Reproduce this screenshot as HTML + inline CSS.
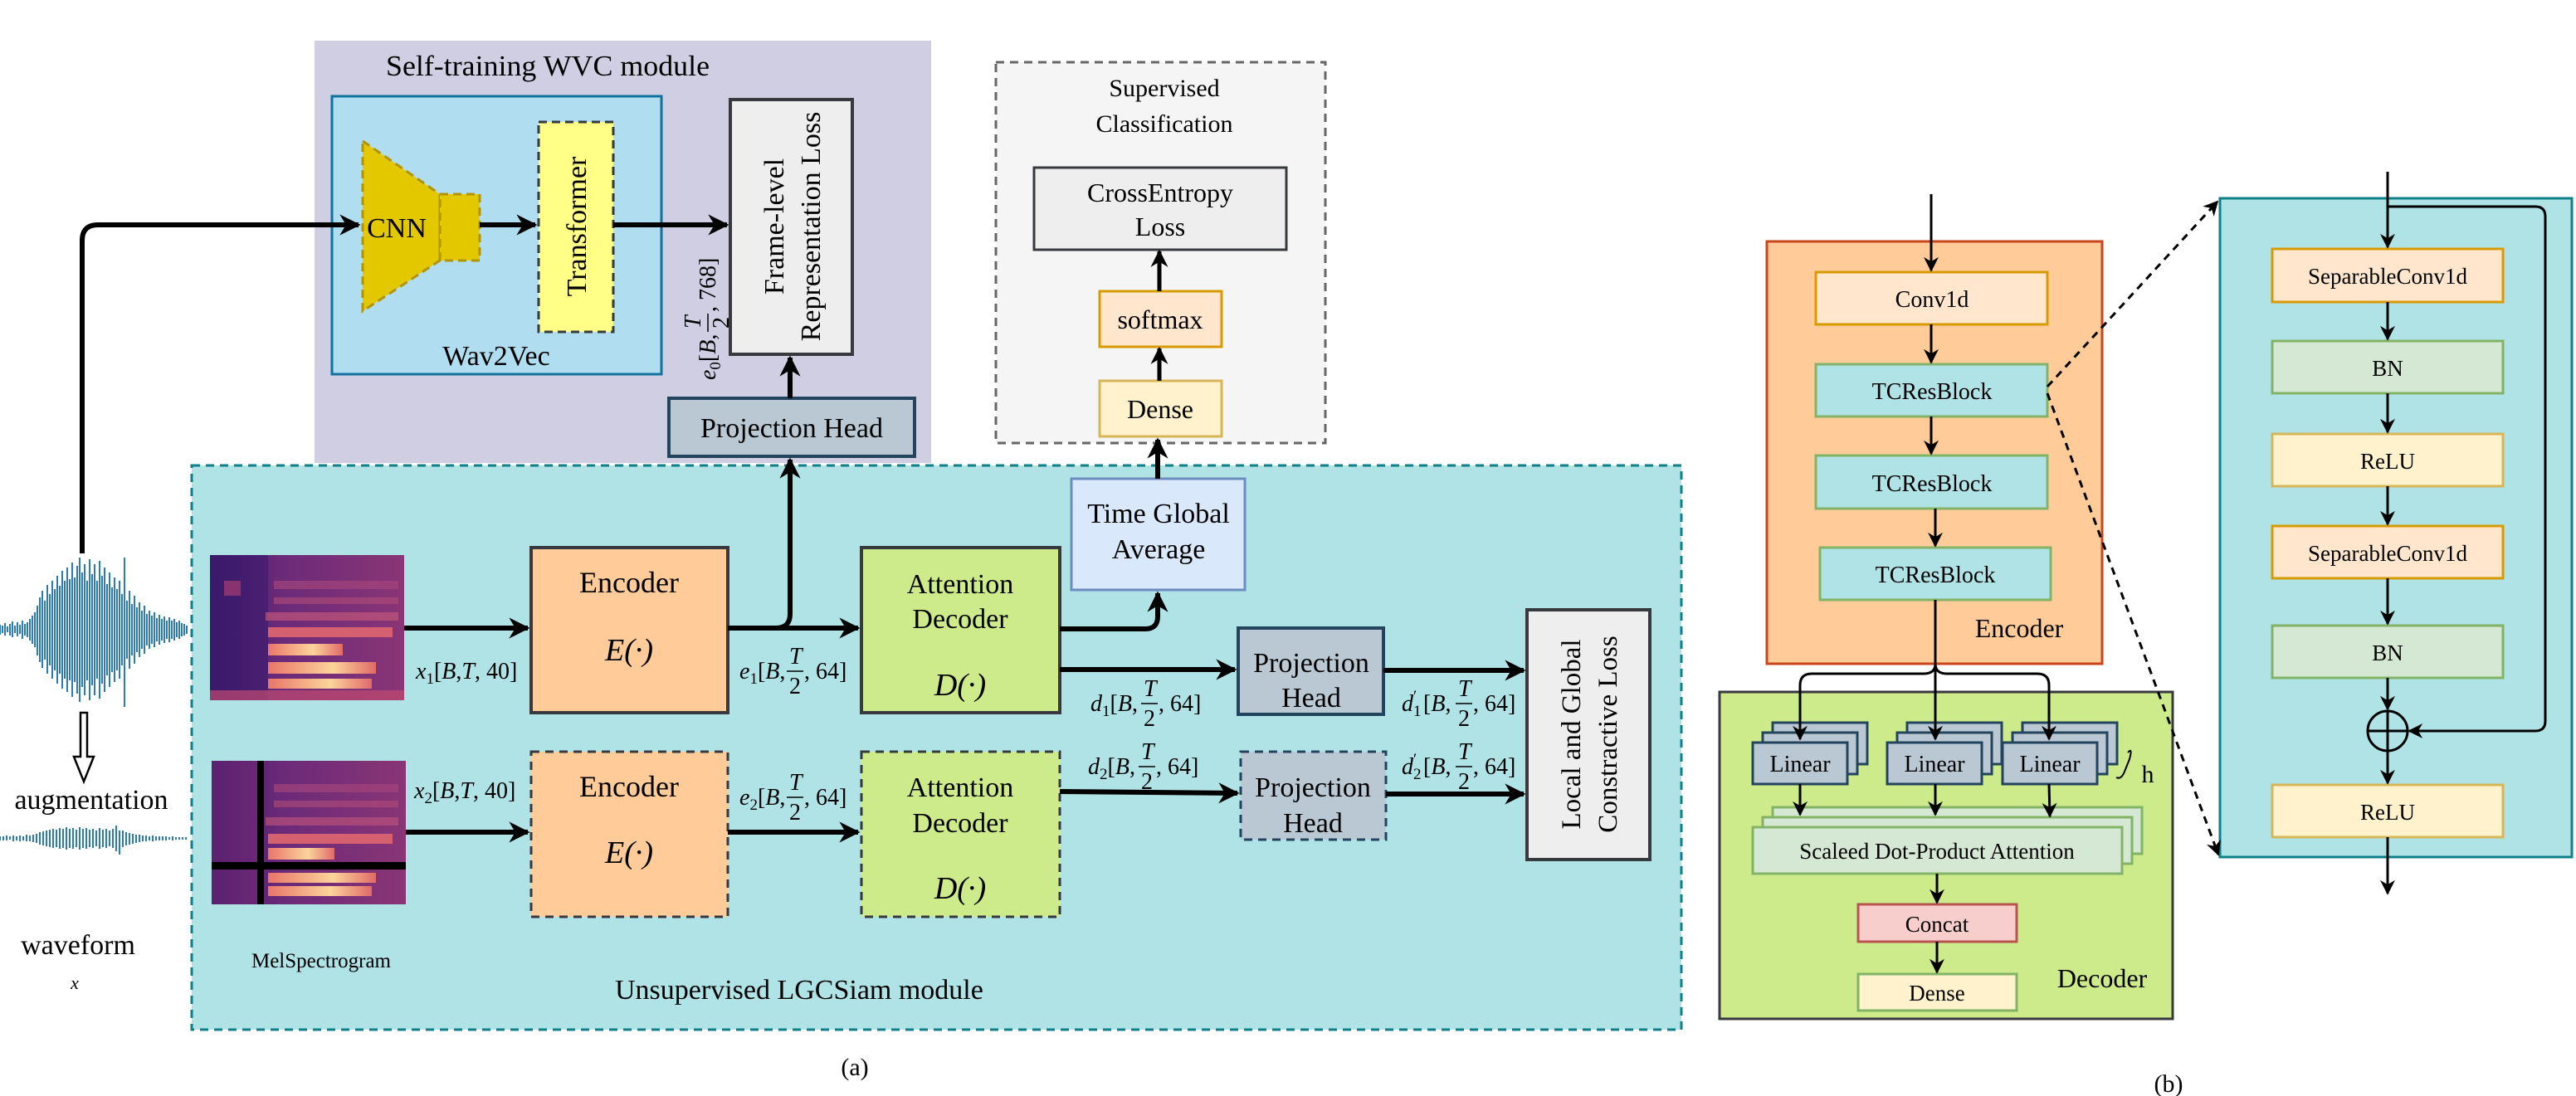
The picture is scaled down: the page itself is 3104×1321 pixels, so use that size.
<!DOCTYPE html>
<html><head><meta charset="utf-8"><style>
html,body{margin:0;padding:0;background:#fff;width:3104px;height:1321px;overflow:hidden}
svg{display:block}
svg text{font-family:"Liberation Serif","DejaVu Serif",serif;fill:#000}
.m{font-size:28px}
</style></head><body>
<svg width="3104" height="1321" viewBox="0 0 3104 1321" xmlns="http://www.w3.org/2000/svg" font-family="Liberation Serif, DejaVu Serif, serif">
<defs>
<marker id="a" viewBox="0 0 10 10" refX="9" refY="5" markerWidth="4.2" markerHeight="4.2" orient="auto" markerUnits="strokeWidth"><path d="M0,0 L10,5 L0,10 L3,5 z" fill="#000"/></marker>
<marker id="b" viewBox="0 0 10 10" refX="9" refY="5" markerWidth="6" markerHeight="6" orient="auto" markerUnits="strokeWidth"><path d="M0,0 L10,5 L0,10 L3,5 z" fill="#000"/></marker>
<linearGradient id="sg" x1="0" x2="1" y1="0" y2="0"><stop offset="0" stop-color="#3a1766"/><stop offset="0.35" stop-color="#6a2a78"/><stop offset="1" stop-color="#8a3576"/></linearGradient>
<linearGradient id="hb" x1="0" x2="1" y1="0" y2="0"><stop offset="0" stop-color="#e8766a"/><stop offset="0.6" stop-color="#fcd49a"/><stop offset="1" stop-color="#e06a6a"/></linearGradient>
</defs>

<!-- Purple WVC module -->
<rect x="379" y="49" width="743" height="509" fill="#d0cee2"/>
<text x="660" y="91" font-size="35" text-anchor="middle" textLength="390" lengthAdjust="spacingAndGlyphs">Self-training WVC module</text>
<rect x="400" y="116" width="397" height="335" fill="#b1ddf0" stroke="#10739e" stroke-width="3"/>
<polygon points="437,170 530,234 530,314 437,375" fill="#e3c800" stroke="#b09500" stroke-width="3" stroke-dasharray="10,6"/>
<rect x="530" y="234" width="48" height="80" fill="#e3c800" stroke="#b09500" stroke-width="3" stroke-dasharray="10,6"/>
<text x="478" y="286" font-size="34" text-anchor="middle">CNN</text>
<rect x="649" y="147" width="90" height="253" fill="#ffff88" stroke="#36393d" stroke-width="3" stroke-dasharray="10,6"/>
<text transform="translate(706,273) rotate(-90)" font-size="34" text-anchor="middle">Transformer</text>
<text x="598" y="440" font-size="34" text-anchor="middle">Wav2Vec</text>
<rect x="880" y="120" width="147" height="307" fill="#eeeeee" stroke="#36393d" stroke-width="4"/>
<text transform="translate(944,273) rotate(-90)" font-size="34" text-anchor="middle">Frame-level</text>
<text transform="translate(988,273) rotate(-90)" font-size="34" text-anchor="middle">Representation Loss</text>
<g transform="translate(862,458) rotate(-90)">
<text x="0" y="0" class="m"><tspan font-style="italic">e</tspan><tspan font-size="19" dy="6">0</tspan><tspan dy="-6">[</tspan><tspan font-style="italic">B</tspan>,</text>
<text x="62" y="-18" class="m" font-style="italic">T</text><line x1="58" y1="-9" x2="80" y2="-9" stroke="#000" stroke-width="1.5"/><text x="62" y="16" class="m">2</text>
<text x="82" y="0" class="m">, 768]</text>
</g>
<rect x="806" y="480" width="296" height="70" fill="#bac8d3" stroke="#23445d" stroke-width="4"/>
<text x="954" y="527" font-size="34" text-anchor="middle">Projection Head</text>

<!-- Supervised classification -->
<rect x="1200" y="75" width="397" height="459" fill="#f5f5f5" stroke="#666" stroke-width="3" stroke-dasharray="10,7"/>
<text x="1403" y="116" font-size="30" text-anchor="middle">Supervised</text>
<text x="1403" y="159" font-size="30" text-anchor="middle">Classification</text>
<rect x="1246" y="202" width="304" height="99" fill="#eeeeee" stroke="#36393d" stroke-width="3"/>
<text x="1398" y="243" font-size="32" text-anchor="middle">CrossEntropy</text>
<text x="1398" y="284" font-size="32" text-anchor="middle">Loss</text>
<rect x="1325" y="351" width="147" height="67" fill="#ffe6cc" stroke="#d79b00" stroke-width="3"/>
<text x="1398" y="396" font-size="32" text-anchor="middle">softmax</text>
<rect x="1325" y="459" width="147" height="67" fill="#fff2cc" stroke="#d6b656" stroke-width="3"/>
<text x="1398" y="504" font-size="32" text-anchor="middle">Dense</text>
<line x1="1397" y1="459" x2="1397" y2="420" stroke="#000" stroke-width="5" marker-end="url(#a)"/>
<line x1="1397" y1="351" x2="1397" y2="303" stroke="#000" stroke-width="5" marker-end="url(#a)"/>

<!-- Unsupervised cyan box -->
<rect x="231" y="561" width="1795" height="680" fill="#b0e3e6" stroke="#0e8088" stroke-width="3" stroke-dasharray="10,7"/>
<text x="741" y="1204" font-size="34">Unsupervised LGCSiam module</text>
<text x="387" y="1166" font-size="25" text-anchor="middle">MelSpectrogram</text>

<!-- Spectrogram 1 -->
<g>
<rect x="253" y="669" width="234" height="175" fill="url(#sg)"/>
<rect x="253" y="669" width="70" height="175" fill="#3b1a6e" opacity="0.6"/>
<rect x="270" y="700" width="20" height="18" fill="#9a3a70" opacity="0.8"/>
<rect x="330" y="700" width="150" height="10" fill="#a3457a" opacity="0.7"/>
<rect x="330" y="720" width="150" height="8" fill="#b14c78" opacity="0.6"/>
<rect x="320" y="738" width="160" height="10" fill="#c0557a" opacity="0.7"/>
<rect x="323" y="756" width="150" height="12" fill="#d46070"/>
<rect x="323" y="776" width="90" height="14" fill="url(#hb)"/>
<rect x="323" y="798" width="130" height="14" fill="url(#hb)"/>
<rect x="323" y="818" width="125" height="12" fill="url(#hb)"/>
<rect x="253" y="832" width="234" height="12" fill="#c04a70" opacity="0.7"/>
</g>
<!-- Spectrogram 2 -->
<g>
<rect x="255" y="917" width="234" height="173" fill="url(#sg)"/>
<rect x="255" y="917" width="60" height="173" fill="#7a2c7a" opacity="0.5"/>
<rect x="330" y="945" width="150" height="10" fill="#a3457a" opacity="0.7"/>
<rect x="330" y="965" width="150" height="8" fill="#b14c78" opacity="0.6"/>
<rect x="320" y="985" width="160" height="10" fill="#b8507a" opacity="0.7"/>
<rect x="323" y="1005" width="150" height="12" fill="#d46070"/>
<rect x="323" y="1022" width="80" height="14" fill="url(#hb)"/>
<rect x="323" y="1052" width="130" height="12" fill="url(#hb)"/>
<rect x="323" y="1068" width="125" height="12" fill="url(#hb)"/>
<rect x="255" y="1039" width="234" height="9" fill="#000"/>
<rect x="310" y="917" width="8" height="173" fill="#000"/>
</g>

<!-- waveforms -->
<path stroke="#2b7bb9" stroke-width="2" fill="none" d="M0,753V765 M3,754V763 M6,751V766 M9,755V762 M12,752V766 M15,749V768 M18,754V763 M21,750V767 M24,753V764 M27,748V770 M30,752V766 M33,750V768 M36,746V772 M39,742V776 M42,738V780 M45,730V790 M48,720V798 M51,712V805 M54,724V795 M57,705V812 M60,716V802 M63,700V818 M66,710V808 M69,694V824 M72,706V812 M75,688V830 M78,700V818 M81,684V834 M84,698V820 M87,678V840 M90,696V822 M93,682V836 M96,672V846 M99,690V828 M102,680V838 M105,700V820 M108,674V844 M111,692V826 M114,680V838 M117,700V818 M120,676V842 M123,694V824 M126,684V834 M129,704V814 M132,690V828 M135,708V810 M138,696V822 M141,710V808 M144,700V818 M147,716V802 M150,672V852 M153,724V794 M156,712V806 M159,728V790 M162,718V800 M165,732V786 M168,726V792 M171,736V782 M174,730V788 M177,740V778 M180,736V782 M183,742V776 M186,738V780 M189,745V773 M192,741V777 M195,746V772 M198,743V775 M201,748V770 M204,744V774 M207,748V770 M210,746V772 M213,750V768 M216,748V770 M219,751V767 M222,752V766 M225,754V764"/>
<path stroke="#2b7bb9" stroke-width="2" fill="none" d="M0,1008V1013 M4,1008V1013 M8,1007V1013 M12,1008V1012 M16,1007V1014 M20,1008V1013 M24,1007V1014 M28,1008V1013 M32,1006V1014 M36,1007V1014 M40,1006V1015 M44,1005V1016 M48,1003V1018 M52,1002V1019 M56,1001V1020 M60,1000V1021 M64,999V1022 M68,1000V1021 M72,998V1023 M76,999V1022 M80,997V1024 M84,999V1022 M88,998V1023 M92,1000V1021 M96,997V1024 M100,999V1022 M104,998V1023 M108,1000V1021 M112,999V1022 M116,1001V1020 M120,998V1023 M124,1000V1021 M128,999V1022 M132,1001V1020 M136,999V1022 M140,995V1026 M144,1001V1030 M148,1001V1021 M152,1003V1019 M156,1004V1018 M160,1005V1017 M164,1006V1016 M168,1006V1015 M172,1007V1014 M176,1007V1014 M180,1008V1013 M184,1007V1014 M188,1008V1013 M192,1008V1013 M196,1008V1013 M200,1008V1013 M204,1009V1012 M208,1008V1013 M212,1009V1012 M216,1009V1012 M220,1009V1012 M224,1009V1012"/>
<text x="110" y="975" font-size="34" text-anchor="middle">augmentation</text>
<text x="94" y="1150" font-size="34" text-anchor="middle">waveform</text>
<text x="90" y="1192" font-size="22" font-style="italic" text-anchor="middle">x</text>
<polygon points="97,859 105,859 105,912 113,912 101,942 89,912 97,912" fill="#fff" stroke="#000" stroke-width="2.5"/>

<!-- Encoders -->
<rect x="640" y="660" width="237" height="199" fill="#ffcc99" stroke="#36393d" stroke-width="4"/>
<text x="758" y="714" font-size="36" text-anchor="middle">Encoder</text>
<text x="758" y="796" font-size="38" font-style="italic" text-anchor="middle">E(·)</text>
<rect x="640" y="906" width="237" height="199" fill="#ffcc99" stroke="#36393d" stroke-width="3" stroke-dasharray="10,7"/>
<text x="758" y="960" font-size="36" text-anchor="middle">Encoder</text>
<text x="758" y="1040" font-size="38" font-style="italic" text-anchor="middle">E(·)</text>
<rect x="1038" y="660" width="239" height="199" fill="#cdeb8b" stroke="#36393d" stroke-width="4"/>
<text x="1157" y="715" font-size="34" text-anchor="middle">Attention</text>
<text x="1157" y="757" font-size="34" text-anchor="middle">Decoder</text>
<text x="1157" y="838" font-size="38" font-style="italic" text-anchor="middle">D(·)</text>
<rect x="1038" y="906" width="239" height="199" fill="#cdeb8b" stroke="#36393d" stroke-width="3" stroke-dasharray="10,7"/>
<text x="1157" y="960" font-size="34" text-anchor="middle">Attention</text>
<text x="1157" y="1003" font-size="34" text-anchor="middle">Decoder</text>
<text x="1157" y="1083" font-size="38" font-style="italic" text-anchor="middle">D(·)</text>
<rect x="1291" y="577" width="209" height="134" fill="#dae8fc" stroke="#6c8ebf" stroke-width="3"/>
<text x="1396" y="630" font-size="34" text-anchor="middle">Time Global</text>
<text x="1396" y="673" font-size="34" text-anchor="middle">Average</text>
<rect x="1492" y="757" width="175" height="104" fill="#bac8d3" stroke="#23445d" stroke-width="4"/>
<text x="1580" y="810" font-size="34" text-anchor="middle">Projection</text>
<text x="1580" y="852" font-size="34" text-anchor="middle">Head</text>
<rect x="1495" y="906" width="175" height="106" fill="#bac8d3" stroke="#23445d" stroke-width="3" stroke-dasharray="10,7"/>
<text x="1582" y="960" font-size="34" text-anchor="middle">Projection</text>
<text x="1582" y="1003" font-size="34" text-anchor="middle">Head</text>
<rect x="1840" y="735" width="148" height="301" fill="#eeeeee" stroke="#36393d" stroke-width="4"/>
<text transform="translate(1904,885) rotate(-90)" font-size="33" text-anchor="middle">Local and Global</text>
<text transform="translate(1948,885) rotate(-90)" font-size="33" text-anchor="middle">Constractive Loss</text>

<g fill="none" stroke="#000" stroke-width="6">
<path d="M99,667 L99,290 Q99,271 118,271 L432,271" marker-end="url(#a)"/>
<line x1="578" y1="271" x2="645" y2="271" marker-end="url(#a)"/>
<line x1="739" y1="271" x2="876" y2="271" marker-end="url(#a)"/>
<line x1="952" y1="480" x2="952" y2="431" marker-end="url(#a)"/>
<line x1="487" y1="757" x2="636" y2="757" marker-end="url(#a)"/>
<line x1="489" y1="1003" x2="636" y2="1003" marker-end="url(#a)"/>
<line x1="877" y1="757" x2="1034" y2="757" marker-end="url(#a)"/>
<path d="M877,757 L935,757 Q952,757 952,740 L952,554" marker-end="url(#a)"/>
<line x1="877" y1="1003" x2="1034" y2="1003" marker-end="url(#a)"/>
<path d="M1277,758 L1380,758 Q1395,758 1395,743 L1395,715" marker-end="url(#a)"/>
<line x1="1395" y1="577" x2="1395" y2="530" marker-end="url(#a)"/>
<line x1="1277" y1="807" x2="1488" y2="807" marker-end="url(#a)"/>
<line x1="1667" y1="808" x2="1836" y2="808" marker-end="url(#a)"/>
<line x1="1277" y1="954" x2="1491" y2="956" marker-end="url(#a)"/>
<line x1="1670" y1="957" x2="1836" y2="957" marker-end="url(#a)"/>
</g>

<text x="501" y="818" class="m"><tspan font-style="italic">x</tspan><tspan font-size="19" dy="6">1</tspan><tspan dy="-6">[</tspan><tspan font-style="italic">B</tspan>,<tspan font-style="italic">T</tspan>, 40]</text>
<text x="499" y="962" class="m"><tspan font-style="italic">x</tspan><tspan font-size="19" dy="6">2</tspan><tspan dy="-6">[</tspan><tspan font-style="italic">B</tspan>,<tspan font-style="italic">T</tspan>, 40]</text>

<g transform="translate(891,818)"><text x="0" y="0" class="m"><tspan font-style="italic">e</tspan><tspan font-size="19" dy="6">1</tspan><tspan dy="-6">[</tspan><tspan font-style="italic">B</tspan>,</text><text x="60" y="-18" class="m" font-style="italic">T</text><line x1="57" y1="-9" x2="77" y2="-9" stroke="#000" stroke-width="1.5"/><text x="60" y="18" class="m">2</text><text x="78" y="0" class="m">, 64]</text></g>
<g transform="translate(891,970)"><text x="0" y="0" class="m"><tspan font-style="italic">e</tspan><tspan font-size="19" dy="6">2</tspan><tspan dy="-6">[</tspan><tspan font-style="italic">B</tspan>,</text><text x="60" y="-18" class="m" font-style="italic">T</text><line x1="57" y1="-9" x2="77" y2="-9" stroke="#000" stroke-width="1.5"/><text x="60" y="18" class="m">2</text><text x="78" y="0" class="m">, 64]</text></g>
<g transform="translate(1314,857)"><text x="0" y="0" class="m"><tspan font-style="italic">d</tspan><tspan font-size="19" dy="6">1</tspan><tspan dy="-6">[</tspan><tspan font-style="italic">B</tspan>,</text><text x="64" y="-18" class="m" font-style="italic">T</text><line x1="61" y1="-9" x2="81" y2="-9" stroke="#000" stroke-width="1.5"/><text x="64" y="18" class="m">2</text><text x="82" y="0" class="m">, 64]</text></g>
<g transform="translate(1311,933)"><text x="0" y="0" class="m"><tspan font-style="italic">d</tspan><tspan font-size="19" dy="6">2</tspan><tspan dy="-6">[</tspan><tspan font-style="italic">B</tspan>,</text><text x="64" y="-18" class="m" font-style="italic">T</text><line x1="61" y1="-9" x2="81" y2="-9" stroke="#000" stroke-width="1.5"/><text x="64" y="18" class="m">2</text><text x="82" y="0" class="m">, 64]</text></g>
<g transform="translate(1689,857)"><text x="0" y="0" class="m"><tspan font-style="italic">d</tspan></text><text x="14" y="-12" font-size="19">′</text><text x="14" y="6" font-size="19">1</text><text x="26" y="0" class="m">[<tspan font-style="italic">B</tspan>,</text><text x="68" y="-18" class="m" font-style="italic">T</text><line x1="65" y1="-9" x2="85" y2="-9" stroke="#000" stroke-width="1.5"/><text x="68" y="18" class="m">2</text><text x="86" y="0" class="m">, 64]</text></g>
<g transform="translate(1689,933)"><text x="0" y="0" class="m"><tspan font-style="italic">d</tspan></text><text x="14" y="-12" font-size="19">′</text><text x="14" y="6" font-size="19">2</text><text x="26" y="0" class="m">[<tspan font-style="italic">B</tspan>,</text><text x="68" y="-18" class="m" font-style="italic">T</text><line x1="65" y1="-9" x2="85" y2="-9" stroke="#000" stroke-width="1.5"/><text x="68" y="18" class="m">2</text><text x="86" y="0" class="m">, 64]</text></g>

<text x="1030" y="1296" font-size="30" text-anchor="middle">(a)</text>
<text x="2613" y="1316" font-size="30" text-anchor="middle">(b)</text>

<!-- ===== Part (b) ===== -->
<rect x="2129" y="291" width="404" height="509" fill="#ffcc99" stroke="#c9461c" stroke-width="3"/>
<rect x="2188" y="328" width="279" height="63" fill="#ffe6cc" stroke="#d79b00" stroke-width="3"/>
<text x="2328" y="370" font-size="28" text-anchor="middle">Conv1d</text>
<rect x="2188" y="439" width="279" height="63" fill="#b0e3e6" stroke="#82b366" stroke-width="3"/>
<text x="2328" y="481" font-size="28" text-anchor="middle">TCResBlock</text>
<rect x="2188" y="549" width="279" height="64" fill="#b0e3e6" stroke="#82b366" stroke-width="3"/>
<text x="2328" y="592" font-size="28" text-anchor="middle">TCResBlock</text>
<rect x="2193" y="660" width="278" height="63" fill="#b0e3e6" stroke="#82b366" stroke-width="3"/>
<text x="2332" y="702" font-size="28" text-anchor="middle">TCResBlock</text>
<text x="2433" y="768" font-size="32" text-anchor="middle">Encoder</text>

<rect x="2072" y="834" width="546" height="394" fill="#cdeb8b" stroke="#36393d" stroke-width="3"/>
<g stroke="#23445d" stroke-width="3" fill="#bac8d3">
<rect x="2136" y="871" width="114" height="50"/><rect x="2124" y="883" width="114" height="50"/><rect x="2112" y="895" width="114" height="50"/>
<rect x="2298" y="871" width="114" height="50"/><rect x="2286" y="883" width="114" height="50"/><rect x="2274" y="895" width="114" height="50"/>
<rect x="2437" y="871" width="114" height="50"/><rect x="2425" y="883" width="114" height="50"/><rect x="2413" y="895" width="114" height="50"/>
</g>
<text x="2169" y="930" font-size="28" text-anchor="middle">Linear</text>
<text x="2331" y="930" font-size="28" text-anchor="middle">Linear</text>
<text x="2470" y="930" font-size="28" text-anchor="middle">Linear</text>
<path d="M2564,907 Q2570,900 2566,915 L2560,930 Q2556,940 2550,937" fill="none" stroke="#000" stroke-width="2"/>
<text x="2588" y="943" font-size="30" text-anchor="middle">h</text>
<g stroke="#82b366" stroke-width="3" fill="#d5e8d4">
<rect x="2136" y="973" width="445" height="56"/><rect x="2124" y="985" width="445" height="56"/><rect x="2112" y="997" width="445" height="56"/>
</g>
<text x="2334" y="1035" font-size="27" text-anchor="middle">Scaleed Dot-Product Attention</text>
<rect x="2239" y="1090" width="191" height="45" fill="#f8cecc" stroke="#b85450" stroke-width="3"/>
<text x="2334" y="1123" font-size="27" text-anchor="middle">Concat</text>
<rect x="2239" y="1174" width="191" height="44" fill="#fff2cc" stroke="#82b366" stroke-width="3"/>
<text x="2334" y="1206" font-size="27" text-anchor="middle">Dense</text>
<text x="2533" y="1190" font-size="32" text-anchor="middle">Decoder</text>

<g fill="none" stroke="#000" stroke-width="3">
<line x1="2327" y1="234" x2="2327" y2="326" marker-end="url(#b)"/>
<line x1="2327" y1="391" x2="2327" y2="437" marker-end="url(#b)"/>
<line x1="2327" y1="502" x2="2327" y2="547" marker-end="url(#b)"/>
<line x1="2332" y1="613" x2="2332" y2="658" marker-end="url(#b)"/>
<line x1="2332" y1="723" x2="2332" y2="891" marker-end="url(#b)"/>
<path d="M2332,800 Q2332,812 2318,812 L2183,812 Q2169,812 2169,826 L2169,891" marker-end="url(#b)"/>
<path d="M2332,800 Q2332,812 2346,812 L2455,812 Q2469,812 2469,826 L2469,891" marker-end="url(#b)"/>
<line x1="2169" y1="945" x2="2169" y2="982" marker-end="url(#b)"/>
<line x1="2332" y1="945" x2="2332" y2="982" marker-end="url(#b)"/>
<line x1="2469" y1="945" x2="2470" y2="984" marker-end="url(#b)"/>
<line x1="2334" y1="1053" x2="2334" y2="1088" marker-end="url(#b)"/>
<line x1="2334" y1="1135" x2="2334" y2="1172" marker-end="url(#b)"/>
</g>

<rect x="2675" y="239" width="424" height="794" fill="#b0e3e6" stroke="#0e8088" stroke-width="3"/>
<rect x="2738" y="300" width="278" height="64" fill="#ffe6cc" stroke="#d79b00" stroke-width="3"/>
<text x="2877" y="342" font-size="27" text-anchor="middle">SeparableConv1d</text>
<rect x="2738" y="411" width="278" height="63" fill="#d5e8d4" stroke="#82b366" stroke-width="3"/>
<text x="2877" y="453" font-size="27" text-anchor="middle">BN</text>
<rect x="2738" y="523" width="278" height="63" fill="#fff2cc" stroke="#d6b656" stroke-width="3"/>
<text x="2877" y="565" font-size="27" text-anchor="middle">ReLU</text>
<rect x="2738" y="634" width="278" height="63" fill="#ffe6cc" stroke="#d79b00" stroke-width="3"/>
<text x="2877" y="676" font-size="27" text-anchor="middle">SeparableConv1d</text>
<rect x="2738" y="754" width="278" height="63" fill="#d5e8d4" stroke="#82b366" stroke-width="3"/>
<text x="2877" y="796" font-size="27" text-anchor="middle">BN</text>
<rect x="2738" y="946" width="278" height="63" fill="#fff2cc" stroke="#d6b656" stroke-width="3"/>
<text x="2877" y="988" font-size="27" text-anchor="middle">ReLU</text>
<circle cx="2877" cy="881" r="24" fill="none" stroke="#000" stroke-width="3"/>
<line x1="2853" y1="881" x2="2901" y2="881" stroke="#000" stroke-width="3"/>
<line x1="2877" y1="857" x2="2877" y2="905" stroke="#000" stroke-width="3"/>
<g fill="none" stroke="#000" stroke-width="3">
<line x1="2877" y1="207" x2="2877" y2="298" marker-end="url(#b)"/>
<path d="M2877,249 L3055,249 Q3067,249 3067,261 L3067,869 Q3067,881 3055,881 L2903,881" marker-end="url(#b)"/>
<line x1="2877" y1="364" x2="2877" y2="409" marker-end="url(#b)"/>
<line x1="2877" y1="474" x2="2877" y2="521" marker-end="url(#b)"/>
<line x1="2877" y1="586" x2="2877" y2="632" marker-end="url(#b)"/>
<line x1="2877" y1="697" x2="2877" y2="752" marker-end="url(#b)"/>
<line x1="2877" y1="817" x2="2877" y2="855" marker-end="url(#b)"/>
<line x1="2877" y1="905" x2="2877" y2="944" marker-end="url(#b)"/>
<line x1="2877" y1="1009" x2="2877" y2="1077" marker-end="url(#b)"/>
</g>
<g fill="none" stroke="#000" stroke-width="3" stroke-dasharray="9,7">
<line x1="2467" y1="466" x2="2672" y2="243" marker-end="url(#b)"/>
<line x1="2467" y1="474" x2="2673" y2="1030" marker-end="url(#b)"/>
</g>
</svg>
</body></html>
